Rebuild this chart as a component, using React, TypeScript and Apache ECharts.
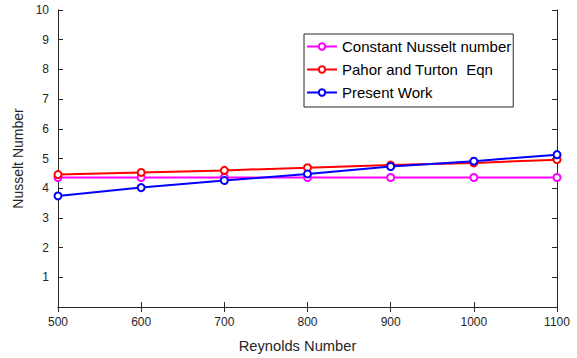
import React, { useEffect, useRef } from "react";
import * as echarts from "echarts";

const reynolds = [500, 600, 700, 800, 900, 1000, 1100];
const constantNu = [4.36, 4.36, 4.36, 4.36, 4.36, 4.36, 4.36];
const pahorTurton = [4.46, 4.53, 4.6, 4.69, 4.78, 4.85, 4.96];
const presentWork = [3.74, 4.02, 4.26, 4.48, 4.73, 4.91, 5.13];
const seriesNames = ["Constant Nusselt number", "Pahor and Turton  Eqn", "Present Work"];
const seriesColors = ["#ff00ff", "#ff0000", "#0000ff"];

const FONT = "Liberation Sans, Arial, sans-serif";

export default function App() {
  const ref = useRef<HTMLDivElement>(null);
  useEffect(() => {
    if (!ref.current) return;
    const chart = echarts.init(ref.current, null, { renderer: "svg" });
    const datasets = [constantNu, pahorTurton, presentWork];
    const axisLine = { show: true, lineStyle: { color: "#262626", width: 1 } };
    const tick = { show: true, inside: true, length: 5, lineStyle: { color: "#262626" } };
    chart.setOption({
      animation: false,
      backgroundColor: "#ffffff",
      textStyle: { fontFamily: FONT },
      grid: { left: 58, right: 20, top: 10, bottom: 50, containLabel: false },
      legend: {
        orient: "vertical",
        left: 304,
        top: 34,
        padding: [5, 2, 7, 2],
        itemWidth: 30,
        itemHeight: 8,
        itemGap: 8,
        borderColor: "#262626",
        borderWidth: 1,
        backgroundColor: "#ffffff",
        textStyle: { fontFamily: FONT, fontSize: 15, color: "#000000" },
        data: seriesNames,
      },
      xAxis: [
        {
          type: "value",
          min: 500,
          max: 1100,
          interval: 100,
          name: "Reynolds Number",
          nameLocation: "middle",
          nameGap: 31,
          nameTextStyle: {
            fontFamily: FONT,
            fontSize: 14.7,
            color: "#262626",
            padding: [0, 20, 0, 0],
          },
          axisLine,
          axisTick: tick,
          axisLabel: {
            fontFamily: FONT,
            fontSize: 12,
            color: "#262626",
            margin: 9,
            formatter: (v: number) => String(v),
          },
          splitLine: { show: false },
        },
        {
          type: "value",
          position: "top",
          min: 500,
          max: 1100,
          interval: 100,
          axisLine,
          axisTick: tick,
          axisLabel: { show: false },
          splitLine: { show: false },
        },
      ],
      yAxis: [
        {
          type: "value",
          min: 0,
          max: 10,
          interval: 1,
          name: "Nusselt Number",
          nameLocation: "middle",
          nameGap: 27,
          nameTextStyle: { fontFamily: FONT, fontSize: 14, color: "#262626" },
          axisLine,
          axisTick: tick,
          axisLabel: {
            fontFamily: FONT,
            fontSize: 12,
            color: "#262626",
            margin: 9,
            formatter: (v: number) => (v === 0 ? "" : String(v)),
          },
          splitLine: { show: false },
        },
        {
          type: "value",
          position: "right",
          min: 0,
          max: 10,
          interval: 1,
          axisLine,
          axisTick: tick,
          axisLabel: { show: false },
          splitLine: { show: false },
        },
      ],
      series: seriesNames.map((name, i) => ({
        name,
        type: "line",
        xAxisIndex: 0,
        yAxisIndex: 0,
        data: reynolds.map((x, j) => [x, datasets[i][j]]),
        color: seriesColors[i],
        lineStyle: { color: seriesColors[i], width: 2 },
        symbol: "emptyCircle",
        symbolSize: 7,
        showAllSymbol: true,
        itemStyle: { color: seriesColors[i], borderColor: seriesColors[i], borderWidth: 2 },
        z: 2 + i,
      })),
    });
    return () => chart.dispose();
  }, []);
  return (
    <div
      ref={ref}
      style={{ position: "absolute", left: 0, top: 0, width: 577, height: 358 }}
    />
  );
}
